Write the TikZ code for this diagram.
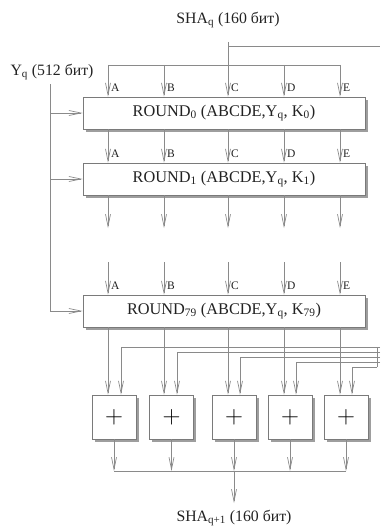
\documentclass[tikz,border=0pt]{standalone}
\usepackage{fontspec}
\setmainfont{Liberation Serif}
\usetikzlibrary{arrows.meta,shadows}
\definecolor{linegray}{HTML}{8A8A8A}
\definecolor{boxgray}{HTML}{7A7A7A}
\definecolor{txt}{HTML}{222222}
\begin{document}
\begin{tikzpicture}[x=1pt,y=-1pt,
  ln/.style={draw=linegray, line width=0.7pt},
  arr/.style={ln, -{Straight Barb[length=12pt,width=5pt]}},
  roundbox/.style={draw=boxgray, line width=0.7pt, fill=white, minimum width=282pt, minimum height=32pt, inner sep=0pt,
     font=\fontsize{16.3}{18}\selectfont, text=txt,
     drop shadow={shadow xshift=2.5pt, shadow yshift=-2.5pt, fill=black!38, opacity=1}},
  plusbox/.style={draw=boxgray, line width=0.7pt, fill=white, minimum width=44pt, minimum height=44pt, inner sep=0pt,
     font=\fontsize{25}{25}\selectfont, text=black,
     drop shadow={shadow xshift=2.5pt, shadow yshift=-2.5pt, fill=black!38, opacity=1}},
  lbl/.style={font=\fontsize{15.8}{17}\selectfont, text=txt, inner sep=0pt},
  col/.style={font=\fontsize{11.5}{12}\selectfont, text=txt, inner sep=0pt, anchor=west}
]
\useasboundingbox (0,0) rectangle (380,527);

% column x positions
\coordinate (xA) at (108,0);
\coordinate (xB) at (164,0);
\coordinate (xC) at (228,0);
\coordinate (xD) at (284,0);
\coordinate (xE) at (340,0);

% boxes
\node[roundbox] (r0) at (224,113) {ROUND\textsubscript{0} (ABCDE,Y\textsubscript{q}, K\textsubscript{0})};
\node[roundbox] (r1) at (224,179) {ROUND\textsubscript{1} (ABCDE,Y\textsubscript{q}, K\textsubscript{1})};
\node[roundbox] (r79) at (224,311) {ROUND\textsubscript{79} (ABCDE,Y\textsubscript{q}, K\textsubscript{79})};

\node[plusbox] (p1) at (114,417) {$+$};
\node[plusbox] (p2) at (171.5,417) {$+$};
\node[plusbox] (p3) at (234,417) {$+$};
\node[plusbox] (p4) at (290,417) {$+$};
\node[plusbox] (p5) at (346,417) {$+$};

% labels
\node[lbl] (sha) at (228,20) {SHA\textsubscript{q} (160 бит)};
\node[lbl] (yq) at (52,72) {Y\textsubscript{q} (512 бит)};
\node[lbl] (shaout) at (234,518) {SHA\textsubscript{q+1} (160 бит)};

% SHA_q input
\coordinate (shaTop) at (228,42);
\coordinate (shaJ) at (228,46);
\coordinate (shaRight) at (380,46);
\coordinate (busL) at (108,65);
\coordinate (busR) at (340,65);
\draw[ln] (shaTop) -- (xC |- busL);
\draw[ln] (shaJ) -- (shaRight);
\draw[ln] (busL) -- (busR);
\foreach \c in {A,B,C,D,E}{
  \draw[arr] (x\c |- busL) -- (x\c |- r0.north);
  \node[col] at ([xshift=3pt,yshift=9pt]x\c |- r0.north) {\c};
  \draw[arr] (x\c |- r0.south) -- (x\c |- r1.north);
  \node[col] at ([xshift=3pt,yshift=9pt]x\c |- r1.north) {\c};
}

% gap arrows
\coordinate (gapTop) at (0,228);
\coordinate (gapBot) at (0,262);
\foreach \c in {A,B,C,D,E}{
  \draw[arr] (x\c |- r1.south) -- (x\c |- gapTop);
  \draw[arr] (x\c |- gapBot) -- (x\c |- r79.north);
  \node[col] at ([xshift=3pt,yshift=9pt]x\c |- r79.north) {\c};
}

% Y_q input
\coordinate (yqTop) at (50,84);
\draw[ln] (yqTop) -- (yqTop |- r79.west);
\draw[arr] (yqTop |- r0.west) -- (r0.west);
\draw[arr] (yqTop |- r1.west) -- (r1.west);
\draw[arr] (yqTop |- r79.west) -- (r79.west);

% round 79 outputs to adders
\draw[arr] (xA |- r79.south) -- (xA |- p1.north);
\draw[arr] (xB |- r79.south) -- (xB |- p2.north);
\draw[arr] (xC |- r79.south) -- (xC |- p3.north);
\draw[arr] (xD |- r79.south) -- (xD |- p4.north);
\draw[arr] (xE |- r79.south) -- (xE |- p5.north);

% feedback lines
\coordinate (f1) at (121,347);
\coordinate (f2) at (177,352);
\coordinate (f3) at (240,357);
\coordinate (f4) at (296,362);
\coordinate (f5) at (352,367);
\coordinate (fv1) at (377,347);
\coordinate (fv5) at (377,367);
\draw[ln] (fv1) -- (fv5);
\draw[arr] (f1 -| shaRight) -| (f1 |- p1.north);
\draw[arr] (f2 -| shaRight) -| (f2 |- p2.north);
\draw[arr] (f3 -| shaRight) -| (f3 |- p3.north);
\draw[arr] (f4 -| shaRight) -| (f4 |- p4.north);
\draw[arr] (fv5) -| (f5 |- p5.north);

% outputs
\coordinate (obus) at (0,471);
\coordinate (outEnd) at (234,503);
\draw[ln] (p1.south |- obus) -- (p5.south |- obus);
\foreach \p in {p1,p2,p3,p4,p5}{
  \draw[arr] (\p.south) -- (\p.south |- obus);
}
\draw[arr] (p3.south |- obus) -- (outEnd);
\end{tikzpicture}
\end{document}
